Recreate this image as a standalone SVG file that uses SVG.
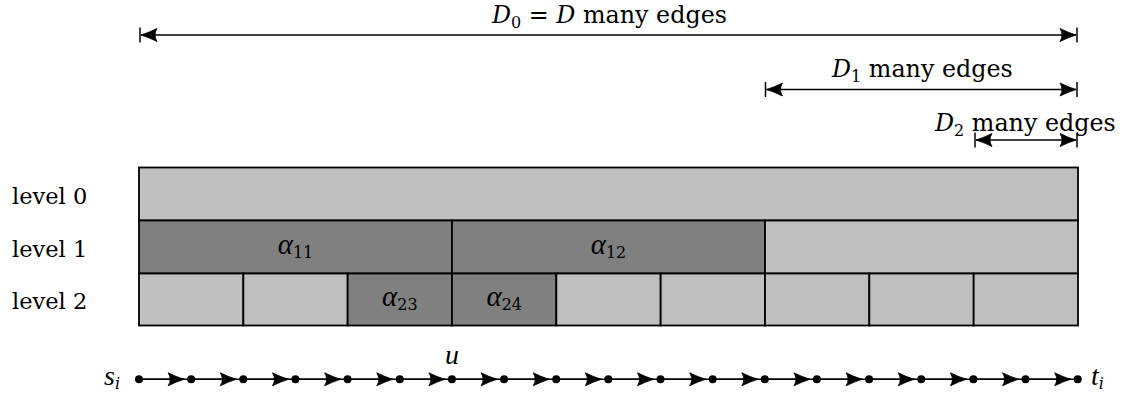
<svg xmlns="http://www.w3.org/2000/svg" width="1125" height="396" viewBox="0 0 1125 396">
<style>
text{font-family:"DejaVu Serif","Liberation Serif",serif;font-size:23.8px;fill:#000}
.lv{font-size:22.5px}
.it{font-style:italic}
.al{font-family:"Liberation Serif","DejaVu Serif",serif;font-style:italic;font-size:29px}
.sub{font-size:16px}
.light{fill:#bfbfbf;stroke:#000;stroke-width:1.8}
.dark{fill:#808080;stroke:#000;stroke-width:1.8}
.dim{stroke:#000;stroke-width:1.5;fill:none}
.edge{stroke:#000;stroke-width:1.5;fill:none;marker-end:url(#ah)}
.bar{stroke:#000;stroke-width:1.5}
.dot{fill:#000}
</style>
<defs>
<marker id="ah" markerUnits="userSpaceOnUse" viewBox="-18 -8 19 16" refX="0" refY="0" markerWidth="19" markerHeight="16" orient="auto-start-reverse">
<path d="M0,0 Q-8,-2.5 -16,-6.5 Q-12,0 -16,6.5 Q-8,2.5 0,0 Z" fill="#000" stroke="#000" stroke-width="0.8" stroke-linejoin="round"/>
</marker>
</defs>

<g id="dimension-labels">
<text x="492" y="23"><tspan class="it">D</tspan><tspan class="sub" dy="5">0</tspan><tspan dy="-5"> = </tspan><tspan class="it">D</tspan> many edges</text>
<text x="832" y="77"><tspan class="it">D</tspan><tspan class="sub" dy="5">1</tspan><tspan dy="-5"> many edges</tspan></text>
<text x="935" y="131"><tspan class="it">D</tspan><tspan class="sub" dy="5">2</tspan><tspan dy="-5"> many edges</tspan></text>
</g>

<g id="level-labels">
<text class="lv" x="12" y="204">level 0</text>
<text class="lv" x="12" y="257">level 1</text>
<text class="lv" x="12" y="309">level 2</text>
</g>

<g id="level0">
<rect id="l0" class="light" x="139" y="167.5" width="939" height="53"/>
</g>
<g id="level1">
<g id="a11"><rect class="dark" x="139" y="220.5" width="313" height="53"/><text x="295.5" y="254" text-anchor="middle"><tspan class="al">α</tspan><tspan class="sub" dy="4">11</tspan></text></g>
<g id="a12"><rect class="dark" x="452" y="220.5" width="313" height="53"/><text x="608.5" y="254" text-anchor="middle"><tspan class="al">α</tspan><tspan class="sub" dy="4">12</tspan></text></g>
<g id="l1c"><rect class="light" x="765" y="220.5" width="313" height="53"/></g>
</g>
<g id="level2">
<rect id="l2a" class="light" x="139" y="273.5" width="104.33" height="52"/>
<rect id="l2b" class="light" x="243.33" y="273.5" width="104.33" height="52"/>
<g id="a23"><rect class="dark" x="347.67" y="273.5" width="104.33" height="52"/><text x="399.8" y="306" text-anchor="middle"><tspan class="al">α</tspan><tspan class="sub" dy="4">23</tspan></text></g>
<g id="a24"><rect class="dark" x="452" y="273.5" width="104.33" height="52"/><text x="504.2" y="306" text-anchor="middle"><tspan class="al">α</tspan><tspan class="sub" dy="4">24</tspan></text></g>
<rect id="l2e" class="light" x="556.33" y="273.5" width="104.33" height="52"/>
<rect id="l2f" class="light" x="660.67" y="273.5" width="104.33" height="52"/>
<rect id="l2g" class="light" x="765" y="273.5" width="104.33" height="52"/>
<rect id="l2h" class="light" x="869.33" y="273.5" width="104.33" height="52"/>
<rect id="l2i" class="light" x="973.67" y="273.5" width="104.33" height="52"/>
</g>

<g id="connectors">
<line class="bar" x1="140" y1="27.5" x2="140" y2="42.5"/>
<line class="bar" x1="1077" y1="27.5" x2="1077" y2="42.5"/>
<line class="dim" x1="141" y1="35" x2="1076" y2="35" marker-start="url(#ah)" marker-end="url(#ah)"/>
<line class="bar" x1="765.5" y1="82" x2="765.5" y2="97"/>
<line class="bar" x1="1077" y1="82" x2="1077" y2="97"/>
<line class="dim" x1="766.5" y1="89.5" x2="1076" y2="89.5" marker-start="url(#ah)" marker-end="url(#ah)"/>
<line class="bar" x1="975" y1="132.5" x2="975" y2="147.5"/>
<line class="bar" x1="1077" y1="132.5" x2="1077" y2="147.5"/>
<line class="dim" x1="976" y1="140" x2="1076" y2="140" marker-start="url(#ah)" marker-end="url(#ah)"/>

<line class="dim" x1="139" y1="379.3" x2="1077.7" y2="379.3"/>
<line class="edge" x1="139" y1="379.3" x2="184.15" y2="379.3"/>
<line class="edge" x1="191.15" y1="379.3" x2="236.3" y2="379.3"/>
<line class="edge" x1="243.3" y1="379.3" x2="288.45" y2="379.3"/>
<line class="edge" x1="295.45" y1="379.3" x2="340.6" y2="379.3"/>
<line class="edge" x1="347.6" y1="379.3" x2="392.75" y2="379.3"/>
<line class="edge" x1="399.75" y1="379.3" x2="444.9" y2="379.3"/>
<line class="edge" x1="451.9" y1="379.3" x2="497.05" y2="379.3"/>
<line class="edge" x1="504.05" y1="379.3" x2="549.2" y2="379.3"/>
<line class="edge" x1="556.2" y1="379.3" x2="601.35" y2="379.3"/>
<line class="edge" x1="608.35" y1="379.3" x2="653.5" y2="379.3"/>
<line class="edge" x1="660.5" y1="379.3" x2="705.65" y2="379.3"/>
<line class="edge" x1="712.65" y1="379.3" x2="757.8" y2="379.3"/>
<line class="edge" x1="764.8" y1="379.3" x2="809.95" y2="379.3"/>
<line class="edge" x1="816.95" y1="379.3" x2="862.1" y2="379.3"/>
<line class="edge" x1="869.1" y1="379.3" x2="914.25" y2="379.3"/>
<line class="edge" x1="921.25" y1="379.3" x2="966.4" y2="379.3"/>
<line class="edge" x1="973.4" y1="379.3" x2="1018.55" y2="379.3"/>
<line class="edge" x1="1025.55" y1="379.3" x2="1070.7" y2="379.3"/>
</g>

<g id="path-vertices">
<circle class="dot" cx="139" cy="379.3" r="4"/>
<circle class="dot" cx="191.15" cy="379.3" r="4"/>
<circle class="dot" cx="243.3" cy="379.3" r="4"/>
<circle class="dot" cx="295.45" cy="379.3" r="4"/>
<circle class="dot" cx="347.6" cy="379.3" r="4"/>
<circle class="dot" cx="399.75" cy="379.3" r="4"/>
<circle class="dot" cx="451.9" cy="379.3" r="4"/>
<circle class="dot" cx="504.05" cy="379.3" r="4"/>
<circle class="dot" cx="556.2" cy="379.3" r="4"/>
<circle class="dot" cx="608.35" cy="379.3" r="4"/>
<circle class="dot" cx="660.5" cy="379.3" r="4"/>
<circle class="dot" cx="712.65" cy="379.3" r="4"/>
<circle class="dot" cx="764.8" cy="379.3" r="4"/>
<circle class="dot" cx="816.95" cy="379.3" r="4"/>
<circle class="dot" cx="869.1" cy="379.3" r="4"/>
<circle class="dot" cx="921.25" cy="379.3" r="4"/>
<circle class="dot" cx="973.4" cy="379.3" r="4"/>
<circle class="dot" cx="1025.55" cy="379.3" r="4"/>
<circle class="dot" cx="1077.7" cy="379.3" r="4"/>
</g>
<g id="vertex-labels">
<text x="104" y="385"><tspan class="al" style="font-size:28px">s</tspan><tspan class="sub it" dy="4">i</tspan></text>
<text x="1091" y="385"><tspan class="al" style="font-size:28px">t</tspan><tspan class="sub it" dy="4">i</tspan></text>
<text x="452" y="364" text-anchor="middle" class="al" style="font-size:28px">u</text>
</g>
</svg>
